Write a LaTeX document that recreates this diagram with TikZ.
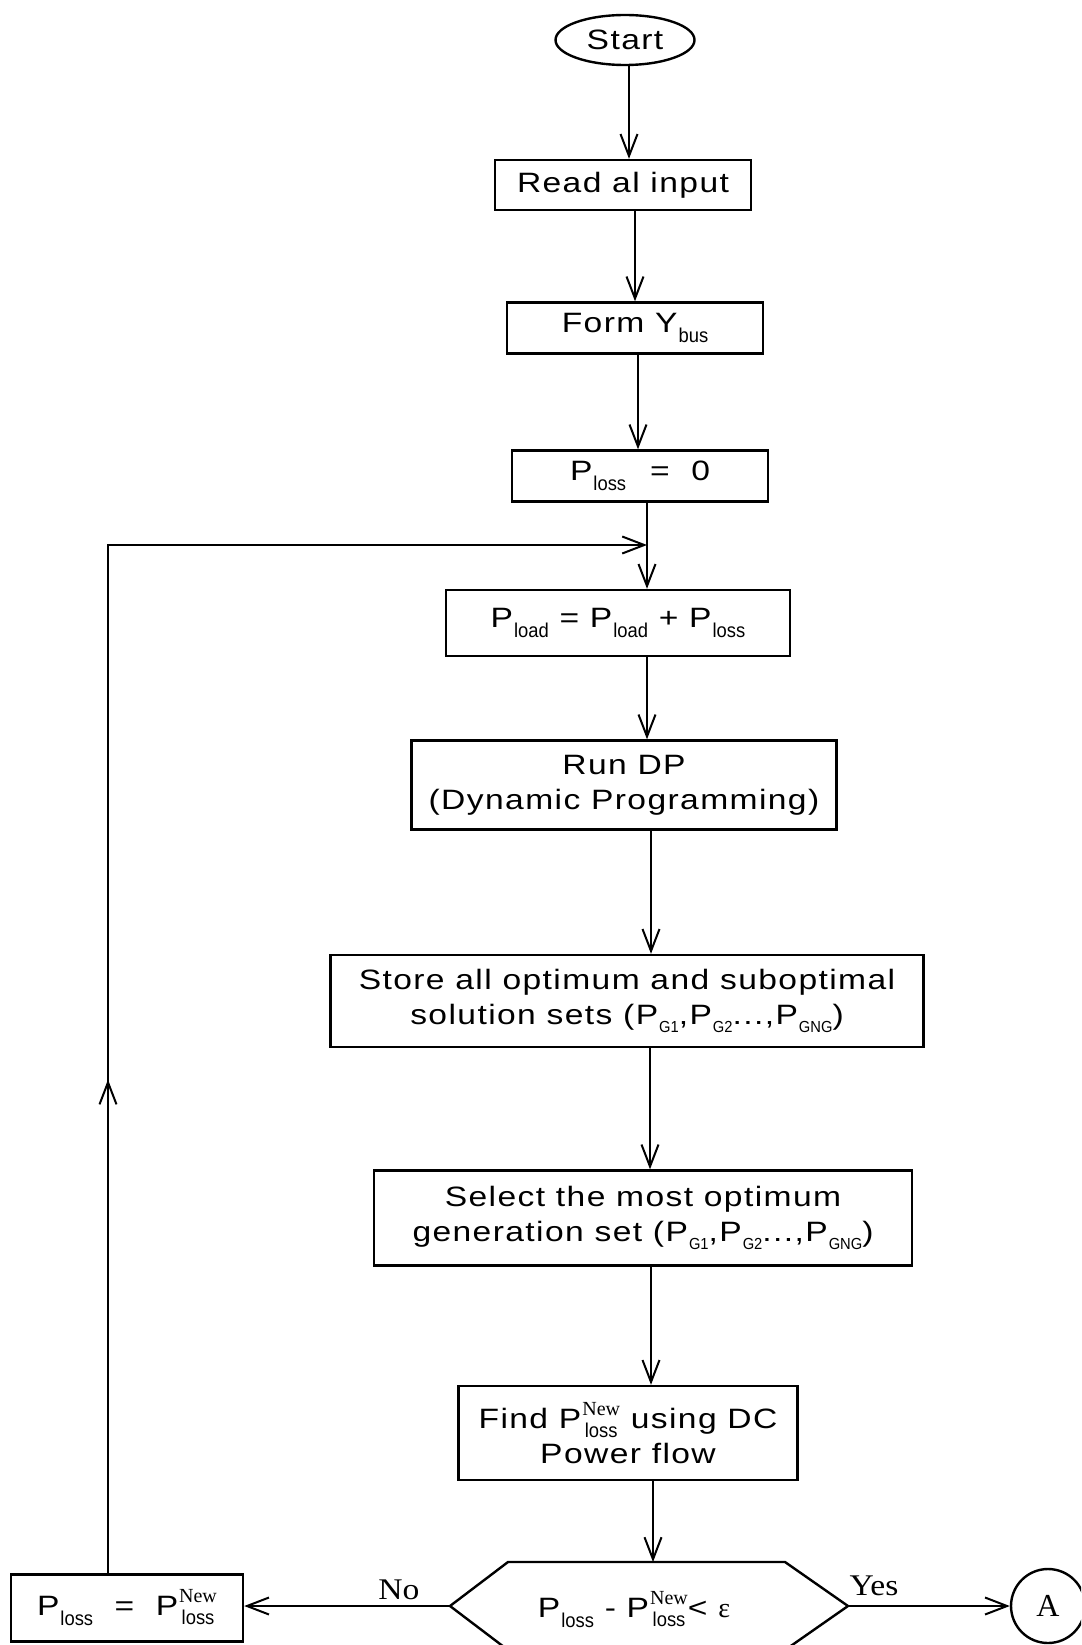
\documentclass[tikz,border=0pt]{standalone}
\usepackage{fontspec}
\setmainfont{Liberation Sans}[FakeStretch=1.2,LetterSpace=5]
\newfontfamily\subf{Liberation Sans}[FakeStretch=0.92]
\newfontfamily\serf{Liberation Serif}
\newfontfamily\serw{Liberation Serif}[FakeStretch=1.12]
\usetikzlibrary{arrows.meta,shapes.geometric,decorations.markings}

% subscripts
\newcommand\sbx[1]{\kern1pt\raisebox{-10pt}{\subf\fontsize{20}{20}\selectfont #1}}
\newcommand\sbg[1]{\kern1pt\raisebox{-8pt}{\subf\fontsize{16}{16}\selectfont #1}}
% stacked superscript over subscript
\newsavebox\stkA
\newsavebox\stkB
\newlength\stkw
\newcommand\stk[2]{%
  \sbox\stkA{\serf\fontsize{20}{20}\selectfont #1}%
  \sbox\stkB{\subf\fontsize{20}{20}\selectfont #2}%
  \setlength\stkw{\wd\stkA}%
  \ifdim\wd\stkB>\stkw \setlength\stkw{\wd\stkB}\fi
  \kern1pt\rlap{\raisebox{13pt}{\makebox[\stkw][c]{\usebox\stkA}}}%
  \raisebox{-9pt}{\makebox[\stkw][c]{\usebox\stkB}}}

\begin{document}
\begin{tikzpicture}[x=1pt,y=-1pt,
  box/.style={draw, line width=2.4pt, inner sep=0pt, align=center,
              font=\fontsize{28}{35}\selectfont},
  arr/.style={line width=2.2pt,
              -{Straight Barb[length=22pt,width=17pt,line width=2pt]}},
  lbl/.style={inner sep=0pt, font=\serw\fontsize{30}{30}\selectfont}]

\useasboundingbox (0,0) rectangle (1081,1645);
\fill[white] (0,0) rectangle (1081,1645);
\clip (0,0) rectangle (1081,1645);

% process nodes
\node[ellipse, draw, line width=2.4pt, minimum width=139pt, minimum height=50pt,
      inner sep=0pt, font=\fontsize{28}{35}\selectfont] (start) at (625,40) {Start};
\node[box, minimum width=256pt, minimum height=50pt] (read) at (623,185) {Read al input};
\node[box, minimum width=256pt, minimum height=51pt] (form) at (635,328) {Form Y\sbx{bus}};
\node[box, minimum width=256pt, minimum height=51pt] (pzero) at (640,476)
  {P\sbx{loss}\hspace{24pt}= \ 0};
\node[box, minimum width=344pt, minimum height=66pt] (pload) at (618,623)
  {P\sbx{load} = P\sbx{load} + P\sbx{loss}};
\node[box, minimum width=425pt, minimum height=89pt] (dp) at (624,785)
  {Run DP\\(Dynamic Programming)};
\node[box, minimum width=593pt, minimum height=92pt] (store) at (627,1001)
  {Store all optimum and suboptimal\\solution sets (P\sbg{G1},P\sbg{G2}...,P\sbg{GNG})};
\node[box, minimum width=538pt, minimum height=95pt] (select) at (643,1218)
  {Select the most optimum\\generation set (P\sbg{G1},P\sbg{G2}...,P\sbg{GNG})};
\node[box, minimum width=339pt, minimum height=94pt] (find) at (628,1433)
  {Find P\stk{New}{loss} using DC\\Power flow};

% decision hexagon
\coordinate (hxT) at (653,1562);
\coordinate (hxL) at (450,1606);
\coordinate (hxR) at (848,1606);
\draw[line width=2.4pt, line join=miter]
  (508,1562) -- (785,1562) -- (hxR) -- (785,1650) -- (508,1650) -- (hxL) -- cycle;
\node[inner sep=0pt, font=\fontsize{28}{35}\selectfont] (test) at (634,1610)
  {P\sbx{loss} - P\stk{New}{loss}< {\serf\fontsize{28}{28}\selectfont ε}};

\node[box, minimum width=232pt, minimum height=67pt] (pnew) at (127,1608)
  {P\sbx{loss} \ = \ P\stk{New}{loss}};
\node[circle, draw, line width=2.4pt, minimum size=74pt, inner sep=0pt,
      font=\serf\fontsize{32}{32}\selectfont] (A) at (1048,1606) {A};

\node[lbl] (no) at (399,1590) {No};
\node[lbl] (yes) at (874,1586) {Yes};

% spine positions
\coordinate (s1) at (629,0);
\coordinate (s2) at (635,0);
\coordinate (s3) at (638,0);
\coordinate (s4) at (647,0);
\coordinate (s5) at (651,0);
\coordinate (s6) at (650,0);
\coordinate (lp) at (108,545);

\draw[arr] (start.south -| s1) -- (read.north -| s1);
\draw[arr] (read.south -| s2) -- (form.north -| s2);
\draw[arr] (form.south -| s3) -- (pzero.north -| s3);
\draw[arr] (pzero.south -| s4) -- (pload.north -| s4);
\draw[arr] (pload.south -| s4) -- (dp.north -| s4);
\draw[arr] (dp.south -| s5) -- (store.north -| s5);
\draw[arr] (store.south -| s6) -- (select.north -| s6);
\draw[arr] (select.south -| s5) -- (find.north -| s5);
\draw[arr] (find.south -| hxT) -- (hxT);

\draw[arr] (hxL) -- (hxL -| pnew.east);
\draw[arr] (hxR) -- (A.west);

% feedback loop
\draw[arr, postaction={decorate}, decoration={markings,
      mark=at position 0.315 with {\arrow{Straight Barb[length=22pt,width=17pt,line width=2pt]}}}]
  (pnew.north -| lp) -- (lp) -- (lp -| s4);
\end{tikzpicture}
\end{document}
